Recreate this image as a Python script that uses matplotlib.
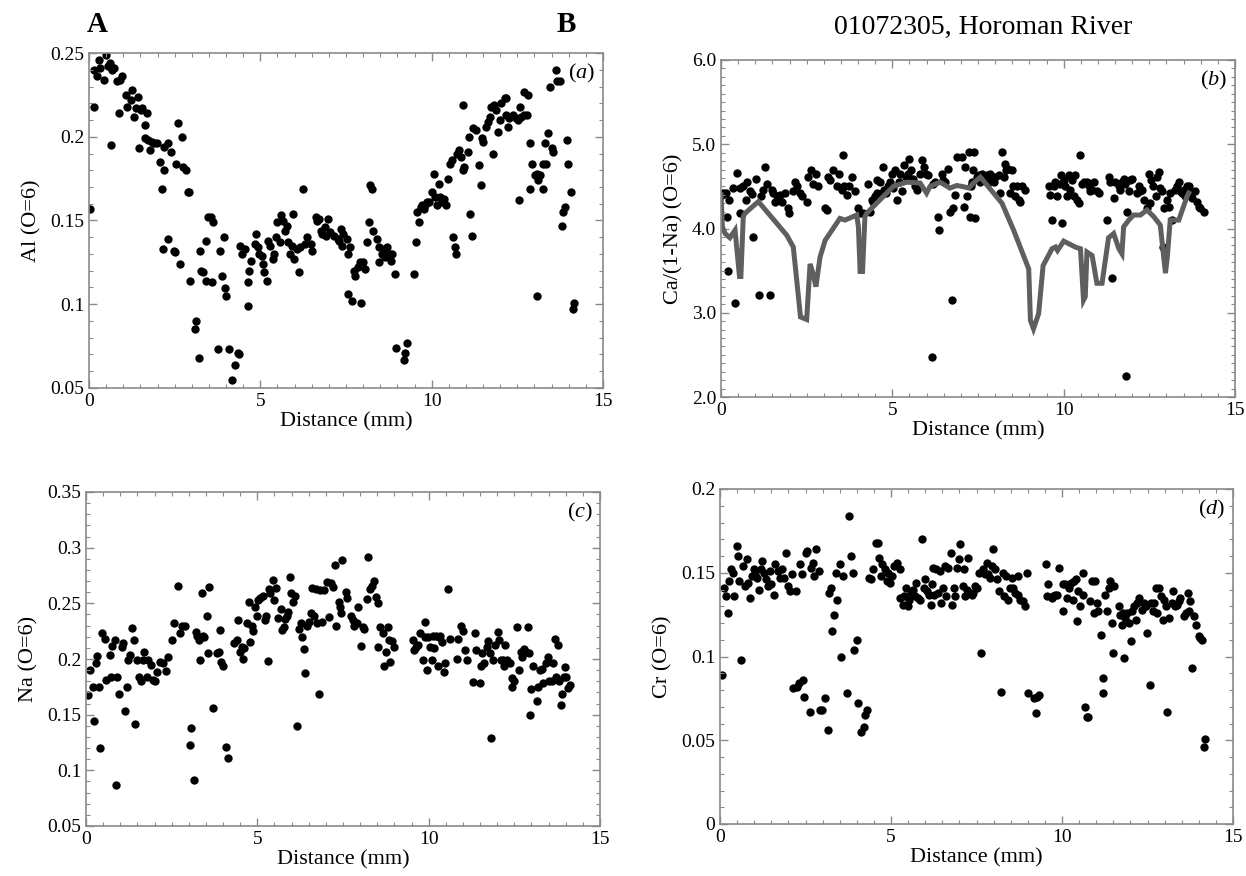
import numpy as np
import matplotlib
matplotlib.use("Agg")
from matplotlib import pyplot as plt
from matplotlib.ticker import MultipleLocator, FormatStrFormatter, FuncFormatter

# ---- data ----
# (a) Al, first half / second half of the traverse
al_x1 = [0.03, 0.15, 0.16, 0.28, 0.23, 0.33, 0.43, 0.50, 0.54, 0.62,
         0.67, 0.74, 0.82, 0.90, 0.97, 0.64, 0.89, 1.07, 1.12, 1.22,
         1.25, 1.30, 1.37, 1.42, 1.47, 1.51, 1.56, 1.63, 1.70, 1.63,
         1.71, 1.77, 1.83, 1.91, 1.99, 2.06, 2.13, 2.19, 2.19, 2.31,
         2.39, 2.55, 2.60, 2.72, 2.75, 2.83, 2.88, 2.92, 2.16, 2.31,
         2.48, 2.51, 2.67, 2.95, 3.08, 3.12, 3.20, 3.25, 3.27, 3.32,
         3.40, 3.42, 3.48, 3.55, 3.62, 3.60, 3.75, 3.81, 3.89, 3.94,
         3.97, 4.01, 4.09, 4.17, 4.26, 4.34, 4.39, 4.41, 4.47, 4.56,
         4.63, 4.65, 4.67, 4.73, 4.83, 4.86, 4.93, 4.96, 5.06, 5.08,
         5.10, 5.18, 5.23, 5.28, 5.36, 5.40, 5.46, 5.50, 5.57, 5.59,
         5.67, 5.72, 5.77, 5.82, 5.87, 5.92, 5.95, 5.99, 6.07, 6.12,
         6.17, 6.24, 6.29, 6.35, 6.49, 6.51, 6.61, 6.66, 6.71, 6.76,
         6.81, 6.88, 6.91, 6.98, 7.04, 7.16, 7.26, 7.34, 7.38]
al_y1 = [0.157, 0.218, 0.240, 0.246, 0.236, 0.241, 0.234, 0.249, 0.242, 0.244,
         0.240, 0.241, 0.233, 0.234, 0.236, 0.195, 0.214, 0.225, 0.218, 0.222,
         0.228, 0.212, 0.217, 0.224, 0.193, 0.216, 0.217, 0.207, 0.214, 0.199,
         0.198, 0.192, 0.197, 0.196, 0.196, 0.185, 0.169, 0.180, 0.194, 0.196,
         0.191, 0.184, 0.208, 0.200, 0.182, 0.180, 0.167, 0.167, 0.133, 0.139,
         0.132, 0.131, 0.124, 0.114, 0.085, 0.090, 0.068, 0.132, 0.120, 0.119,
         0.114, 0.138, 0.152, 0.152, 0.149, 0.113, 0.073, 0.132, 0.117, 0.140,
         0.110, 0.105, 0.073, 0.055, 0.064, 0.071, 0.070, 0.135, 0.130, 0.133,
         0.099, 0.113, 0.120, 0.126, 0.136, 0.142, 0.134, 0.130, 0.129, 0.124,
         0.119, 0.114, 0.138, 0.135, 0.127, 0.130, 0.140, 0.149, 0.137, 0.153,
         0.150, 0.144, 0.147, 0.137, 0.130, 0.135, 0.154, 0.127, 0.133, 0.119,
         0.134, 0.169, 0.136, 0.140, 0.136, 0.132, 0.152, 0.150, 0.151, 0.144,
         0.142, 0.146, 0.141, 0.151, 0.143, 0.141, 0.139, 0.145, 0.135]
al_x2 = [7.30, 7.42, 7.52, 7.57, 7.62, 7.55, 7.67, 7.72, 7.76, 7.84,
         7.91, 7.94, 8.01, 8.06, 8.11, 8.16, 8.21, 8.25, 8.30, 8.40,
         8.45, 8.47, 8.55, 8.60, 8.65, 8.70, 8.79, 8.81, 8.85, 8.92,
         8.96, 9.19, 9.22, 9.28, 9.48, 9.53, 9.56, 9.63, 9.68, 9.73,
         9.77, 9.82, 9.87, 9.92, 10.00, 10.07, 10.10, 10.17, 10.22, 10.23,
         10.31, 10.36, 10.41, 10.49, 10.53, 10.59, 10.61, 10.69, 10.71, 10.75,
         10.80, 10.85, 10.90, 10.92, 10.95, 11.05, 11.08, 11.12, 11.18, 11.22,
         11.29, 11.39, 11.44, 11.47, 11.51, 11.59, 11.64, 11.69, 11.74, 11.78,
         11.83, 11.88, 11.95, 11.98, 12.03, 12.13, 12.16, 12.18, 12.23, 12.27,
         12.37, 12.45, 12.52, 12.57, 12.62, 12.69, 12.77, 12.55, 12.69, 12.81,
         12.86, 12.88, 12.94, 13.01, 13.06, 13.08, 13.11, 13.16, 13.24, 13.25,
         13.30, 13.35, 13.40, 13.45, 13.50, 13.55, 13.63, 13.67, 13.75, 13.79,
         13.82, 13.89, 13.94, 13.99, 14.06, 14.12, 14.16]
al_y2 = [0.138, 0.142, 0.139, 0.130, 0.134, 0.106, 0.102, 0.120, 0.117, 0.122,
         0.125, 0.101, 0.125, 0.121, 0.137, 0.149, 0.171, 0.169, 0.144, 0.139,
         0.134, 0.125, 0.130, 0.133, 0.128, 0.134, 0.130, 0.126, 0.130, 0.118,
         0.074, 0.067, 0.071, 0.077, 0.118, 0.137, 0.155, 0.149, 0.158, 0.159,
         0.157, 0.159, 0.161, 0.161, 0.167, 0.178, 0.164, 0.159, 0.172, 0.164,
         0.161, 0.163, 0.159, 0.175, 0.184, 0.186, 0.140, 0.134, 0.130, 0.190,
         0.192, 0.188, 0.180, 0.219, 0.182, 0.191, 0.200, 0.154, 0.141, 0.205,
         0.204, 0.183, 0.171, 0.199, 0.197, 0.206, 0.209, 0.212, 0.218, 0.190,
         0.219, 0.216, 0.203, 0.210, 0.220, 0.223, 0.223, 0.213, 0.206, 0.211,
         0.213, 0.211, 0.210, 0.218, 0.212, 0.213, 0.213, 0.162, 0.227, 0.225,
         0.196, 0.169, 0.184, 0.177, 0.105, 0.178, 0.174, 0.177, 0.184, 0.169,
         0.196, 0.184, 0.202, 0.230, 0.193, 0.191, 0.240, 0.233, 0.233, 0.147,
         0.155, 0.158, 0.198, 0.184, 0.167, 0.097, 0.101]

# (b) Ca/(1-Na), points
ca_x1 = [0.02, 0.07, 0.15, 0.18, 0.24, 0.21, 0.41, 0.34, 0.48, 0.54,
         0.56, 0.65, 0.73, 0.75, 0.85, 0.90, 0.94, 1.02, 1.11, 1.16,
         1.22, 1.28, 1.35, 1.43, 1.48, 1.53, 1.58, 1.62, 1.67, 1.72,
         1.77, 1.87, 1.96, 1.99, 2.11, 2.16, 2.21, 2.31, 2.35, 2.50,
         2.55, 2.62, 2.69, 2.78, 2.84, 3.04, 3.08, 3.13, 3.18, 3.28,
         3.38, 3.45, 3.52, 3.55, 3.59, 3.67, 3.74, 3.81, 3.91, 4.01,
         4.06, 4.13, 4.30, 4.35, 4.40, 4.45, 4.49, 4.54, 4.56, 4.64,
         4.69, 4.72, 4.76, 4.82, 4.88, 4.93, 4.98, 5.01, 5.08, 5.15,
         5.18, 5.22, 5.27, 5.34, 5.40, 5.47, 5.50, 5.54, 5.61, 5.66,
         5.71, 5.76, 5.81, 5.88, 5.92, 5.98, 6.05, 6.15, 6.20, 6.24,
         6.34, 6.37, 6.44, 6.49, 6.54, 6.63, 6.68, 6.75, 6.78, 6.83,
         6.88]
ca_y1 = [4.40, 4.42, 4.42, 4.14, 4.34, 3.49, 3.11, 4.48, 4.66, 4.48,
         4.18, 4.50, 4.34, 4.55, 4.44, 4.41, 3.90, 4.59, 3.21, 4.38,
         4.46, 4.73, 4.53, 3.21, 4.46, 4.42, 4.32, 4.38, 4.34, 4.40,
         4.32, 4.42, 4.24, 4.18, 4.44, 4.55, 4.50, 4.42, 4.38, 4.32,
         4.61, 4.69, 4.53, 4.65, 4.50, 4.24, 4.22, 4.61, 4.57, 4.69,
         4.51, 4.65, 4.46, 4.87, 4.51, 4.40, 4.51, 4.61, 4.44, 4.24,
         4.18, 4.18, 4.53, 4.20, 4.34, 4.32, 4.38, 4.42, 4.57, 4.55,
         4.42, 4.73, 4.46, 4.42, 4.50, 4.55, 4.65, 4.48, 4.69, 4.34,
         4.55, 4.65, 4.44, 4.75, 4.61, 4.65, 4.83, 4.69, 4.59, 4.50,
         4.46, 4.50, 4.65, 4.81, 4.73, 4.65, 4.63, 2.48, 4.53, 4.55,
         4.14, 3.98, 4.65, 4.57, 4.55, 4.71, 4.20, 3.15, 4.24, 4.40,
         4.85]
ca_x2 = [7.03, 7.08, 7.13, 7.18, 7.23, 7.26, 7.30, 7.32, 7.35, 7.37,
         7.42, 7.47, 7.52, 7.57, 7.62, 7.67, 7.76, 7.81, 7.86, 7.91,
         7.96, 8.01, 8.10, 8.15, 8.20, 8.25, 8.30, 8.33, 8.39, 8.44,
         8.49, 8.52, 8.59, 8.64, 8.69, 8.74, 8.78, 8.88, 9.56, 9.61,
         9.66, 9.71, 9.76, 9.81, 9.90, 9.92, 9.95, 10.00, 10.05, 10.10,
         10.15, 10.19, 10.24, 10.29, 10.34, 10.39, 10.44, 10.49, 10.54, 10.58,
         10.68, 10.73, 10.78, 10.83, 10.88, 10.97, 11.02, 11.26, 11.31, 11.36,
         11.41, 11.46, 11.51, 11.61, 11.65, 11.70, 11.77, 11.80, 11.83, 11.85,
         11.90, 11.95, 12.00, 12.14, 12.19, 12.24, 12.29, 12.34, 12.43, 12.48,
         12.51, 12.55, 12.61, 12.68, 12.72, 12.77, 12.82, 12.87, 12.90, 12.94,
         13.02, 13.06, 13.11, 13.16, 13.26, 13.31, 13.36, 13.40, 13.45, 13.50,
         13.55, 13.60, 13.65, 13.70, 13.75, 13.84, 13.89, 13.94, 13.99, 14.09]
ca_y2 = [4.85, 4.26, 4.73, 4.38, 4.91, 4.14, 4.50, 4.55, 4.69, 4.91,
         4.12, 4.61, 4.63, 4.55, 4.65, 4.61, 4.63, 4.55, 4.65, 4.61,
         4.55, 4.61, 4.63, 4.42, 4.91, 4.61, 4.77, 4.69, 4.71, 4.42,
         4.69, 4.50, 4.38, 4.51, 4.34, 4.32, 4.50, 4.46, 4.51, 4.40,
         4.10, 4.50, 4.55, 4.38, 4.53, 4.63, 4.06, 4.57, 4.50, 4.38,
         4.63, 4.46, 4.57, 4.38, 4.63, 4.34, 4.30, 4.87, 4.53, 4.55,
         4.55, 4.50, 4.44, 4.46, 4.55, 4.44, 4.42, 4.10, 4.61, 4.55,
         3.41, 4.36, 4.55, 4.50, 4.46, 4.55, 4.59, 4.53, 2.25, 4.20,
         4.44, 4.57, 4.59, 4.42, 4.51, 4.44, 4.46, 4.34, 4.24, 4.65,
         4.30, 4.57, 4.51, 4.38, 4.61, 4.67, 4.48, 4.44, 3.78, 4.24,
         4.34, 4.26, 4.42, 4.10, 4.46, 4.50, 4.55, 4.44, 4.42, 4.46,
         4.38, 4.50, 4.51, 4.42, 4.36, 4.44, 4.32, 4.26, 4.24, 4.20]

# (b) grey profile line
ca_line_x = [0.00, 0.04, 0.12, 0.26, 0.41, 0.54, 0.58, 0.65, 0.70, 1.09,
             1.92, 2.11, 2.32, 2.50, 2.60, 2.68, 2.77, 2.89, 3.04, 3.47,
             3.62, 3.96, 4.01, 4.06, 4.13, 4.20, 4.25, 4.64, 5.03, 5.42,
             5.81, 6.00, 6.10, 6.39, 6.68, 6.88, 7.03, 7.23, 7.37, 7.57,
             8.20, 8.54, 8.98, 9.03, 9.12, 9.27, 9.40, 9.66, 9.76, 9.82,
             10.00, 10.34, 10.49, 10.58, 10.63, 10.68, 10.83, 10.97, 11.12, 11.31,
             11.46, 11.61, 11.70, 11.75, 11.90, 12.04, 12.24, 12.43, 12.63, 12.82,
             12.97, 13.02, 13.11, 13.36, 13.60, 13.65]
ca_line_y = [4.40, 4.02, 3.94, 3.89, 3.98, 3.43, 3.43, 4.14, 4.18, 4.32,
             3.92, 3.78, 2.95, 2.92, 3.58, 3.47, 3.31, 3.66, 3.86, 4.12,
             4.10, 4.16, 4.02, 3.49, 3.49, 4.14, 4.18, 4.34, 4.50, 4.55,
             4.54, 4.42, 4.50, 4.55, 4.48, 4.51, 4.50, 4.48, 4.54, 4.61,
             4.30, 3.98, 3.52, 2.91, 2.81, 2.99, 3.56, 3.76, 3.78, 3.74,
             3.85, 3.78, 3.76, 3.15, 3.19, 3.72, 3.68, 3.35, 3.35, 3.89,
             3.94, 3.76, 3.70, 4.02, 4.10, 4.16, 4.16, 4.22, 4.14, 4.04,
             3.47, 3.64, 4.10, 4.10, 4.38, 4.42]

# (c) Na
na_x1 = [0.06, 0.13, 0.19, 0.23, 0.28, 0.33, 0.38, 0.42, 0.48, 0.55,
         0.58, 0.70, 0.73, 0.77, 0.84, 0.89, 0.91, 0.97, 1.04, 1.09,
         1.14, 1.19, 1.24, 1.28, 1.33, 1.40, 1.43, 1.48, 1.56, 1.60,
         1.66, 1.68, 1.77, 1.82, 1.89, 1.95, 2.02, 2.07, 2.15, 2.26,
         2.33, 2.38, 2.51, 2.56, 2.68, 2.73, 2.80, 2.90, 3.03, 3.07,
         3.15, 3.20, 3.25, 3.29, 3.34, 3.39, 3.42, 3.45, 3.52, 3.56,
         3.59, 3.71, 3.81, 3.88, 3.91, 3.95, 4.01, 4.08, 4.15, 4.32,
         4.40, 4.44, 4.50, 4.54, 4.57, 4.62, 4.70, 4.77, 4.79, 4.83,
         4.86, 4.93, 4.99, 5.03, 5.09, 5.16, 5.21, 5.25, 5.30, 5.35,
         5.38, 5.45, 5.50, 5.55, 5.60, 5.68, 5.72, 5.77, 5.81, 5.87,
         5.90, 5.94, 5.99, 6.04, 6.09, 6.17, 6.21, 6.26, 6.30, 6.36,
         6.40, 6.46, 6.50, 6.56, 6.60, 6.66, 6.70, 6.75, 6.79, 6.82,
         6.89, 6.95, 7.02, 7.09, 7.15, 7.22, 7.26, 7.31]
na_y1 = [0.168, 0.190, 0.175, 0.144, 0.196, 0.203, 0.175, 0.120, 0.223, 0.218,
         0.181, 0.204, 0.184, 0.212, 0.217, 0.087, 0.184, 0.169, 0.211, 0.214,
         0.153, 0.175, 0.199, 0.204, 0.228, 0.217, 0.142, 0.199, 0.184, 0.180,
         0.199, 0.206, 0.184, 0.199, 0.195, 0.181, 0.180, 0.188, 0.197, 0.196,
         0.189, 0.202, 0.217, 0.232, 0.266, 0.223, 0.230, 0.230, 0.123, 0.138,
         0.091, 0.224, 0.221, 0.217, 0.199, 0.259, 0.221, 0.220, 0.239, 0.205,
         0.265, 0.156, 0.205, 0.206, 0.226, 0.197, 0.194, 0.121, 0.111, 0.214,
         0.217, 0.235, 0.206, 0.211, 0.200, 0.210, 0.232, 0.251, 0.215, 0.230,
         0.225, 0.247, 0.239, 0.253, 0.255, 0.257, 0.235, 0.239, 0.198, 0.263,
         0.259, 0.271, 0.253, 0.264, 0.237, 0.245, 0.226, 0.229, 0.236, 0.239,
         0.242, 0.274, 0.259, 0.251, 0.257, 0.140, 0.227, 0.232, 0.220, 0.209,
         0.187, 0.230, 0.233, 0.241, 0.264, 0.239, 0.263, 0.232, 0.169, 0.262,
         0.233, 0.262, 0.269, 0.238, 0.268, 0.265, 0.284, 0.230]
na_x2 = [7.48, 7.58, 7.63, 7.39, 7.41, 7.43, 7.73, 7.78, 7.83, 7.91,
         7.94, 8.02, 8.07, 8.12, 8.20, 8.24, 8.30, 8.34, 8.40, 8.47,
         8.51, 8.53, 8.59, 8.66, 8.71, 8.75, 8.80, 8.85, 8.88, 8.92,
         8.98, 9.53, 9.58, 9.63, 9.70, 9.76, 9.83, 9.88, 9.90, 9.95,
         9.99, 10.05, 10.09, 10.13, 10.17, 10.22, 10.27, 10.31, 10.34, 10.38,
         10.44, 10.48, 10.55, 10.61, 10.83, 10.87, 10.95, 11.00, 11.05, 11.13,
         11.30, 11.35, 11.37, 11.49, 11.52, 11.56, 11.62, 11.69, 11.73, 11.78,
         11.83, 11.88, 11.93, 12.01, 12.05, 12.11, 12.17, 12.20, 12.24, 12.30,
         12.37, 12.42, 12.44, 12.50, 12.57, 12.64, 12.69, 12.73, 12.79, 12.83,
         12.89, 12.93, 12.96, 12.99, 13.05, 13.15, 13.20, 13.25, 13.30, 13.34,
         13.41, 13.47, 13.51, 13.59, 13.63, 13.68, 13.73, 13.78, 13.79, 13.85,
         13.89, 13.95, 13.99, 14.02, 14.06, 14.11]
na_y2 = [0.289, 0.260, 0.255, 0.251, 0.247, 0.241, 0.239, 0.235, 0.230, 0.232,
         0.247, 0.212, 0.229, 0.227, 0.254, 0.292, 0.263, 0.266, 0.270, 0.256,
         0.211, 0.250, 0.229, 0.223, 0.194, 0.206, 0.229, 0.217, 0.197, 0.216,
         0.211, 0.217, 0.208, 0.211, 0.213, 0.223, 0.199, 0.220, 0.233, 0.190,
         0.220, 0.211, 0.199, 0.221, 0.210, 0.221, 0.194, 0.220, 0.221, 0.215,
         0.188, 0.196, 0.263, 0.218, 0.200, 0.218, 0.230, 0.225, 0.208, 0.199,
         0.179, 0.223, 0.208, 0.178, 0.194, 0.205, 0.196, 0.211, 0.216, 0.205,
         0.129, 0.199, 0.213, 0.224, 0.217, 0.199, 0.199, 0.194, 0.213, 0.199,
         0.196, 0.175, 0.183, 0.180, 0.229, 0.190, 0.206, 0.202, 0.209, 0.206,
         0.229, 0.205, 0.150, 0.173, 0.194, 0.162, 0.175, 0.190, 0.191, 0.178,
         0.196, 0.202, 0.180, 0.180, 0.196, 0.218, 0.184, 0.213, 0.180, 0.159,
         0.169, 0.184, 0.193, 0.184, 0.174, 0.177]

# (d) Cr
cr_x1 = [0.05, 0.13, 0.18, 0.22, 0.25, 0.31, 0.37, 0.41, 0.49, 0.52,
         0.57, 0.61, 0.67, 0.74, 0.78, 0.83, 0.88, 0.93, 0.98, 1.03,
         1.08, 1.13, 1.20, 1.24, 1.29, 1.35, 1.39, 1.45, 1.50, 1.57,
         1.62, 1.69, 1.75, 1.81, 1.86, 1.94, 1.98, 2.04, 2.11, 2.14,
         2.21, 2.25, 2.30, 2.33, 2.39, 2.43, 2.47, 2.50, 2.55, 2.63,
         2.67, 2.73, 2.76, 2.82, 2.89, 2.92, 2.99, 3.07, 3.16, 3.19,
         3.24, 3.28, 3.33, 3.38, 3.43, 3.51, 3.55, 3.61, 3.71, 3.77,
         3.84, 3.90, 3.92, 4.00, 4.04, 4.12, 4.20, 4.24, 4.29, 4.36,
         4.41, 4.46, 4.56, 4.63, 4.66, 4.71, 4.75, 4.82, 4.88, 4.92,
         4.98, 5.02, 5.10, 5.18, 5.25, 5.27, 5.34, 5.39, 5.44, 5.49,
         5.54, 5.59, 5.64, 5.69, 5.74, 5.80, 5.86, 5.90, 5.96, 6.00,
         6.06, 6.10, 6.16, 6.20, 6.23, 6.27, 6.32, 6.37, 6.42, 6.47,
         6.52, 6.57, 6.62, 6.67, 6.75, 6.78, 6.84, 6.88, 6.94, 7.01,
         6.98]
cr_y1 = [0.089, 0.141, 0.136, 0.126, 0.145, 0.152, 0.150, 0.136, 0.166, 0.160,
         0.145, 0.098, 0.154, 0.142, 0.158, 0.144, 0.135, 0.148, 0.152, 0.149,
         0.147, 0.140, 0.152, 0.157, 0.150, 0.146, 0.142, 0.151, 0.143, 0.137,
         0.155, 0.151, 0.147, 0.152, 0.147, 0.162, 0.142, 0.139, 0.149, 0.081,
         0.139, 0.082, 0.084, 0.155, 0.149, 0.086, 0.076, 0.162, 0.163, 0.067,
         0.153, 0.156, 0.148, 0.164, 0.151, 0.068, 0.068, 0.075, 0.056, 0.138,
         0.141, 0.115, 0.125, 0.150, 0.134, 0.155, 0.100, 0.148, 0.078, 0.184,
         0.160, 0.150, 0.104, 0.110, 0.072, 0.055, 0.058, 0.065, 0.068, 0.147,
         0.146, 0.152, 0.168, 0.168, 0.159, 0.148, 0.155, 0.152, 0.145, 0.150,
         0.144, 0.148, 0.154, 0.156, 0.152, 0.135, 0.131, 0.136, 0.141, 0.130,
         0.134, 0.138, 0.140, 0.136, 0.144, 0.135, 0.134, 0.170, 0.141, 0.146,
         0.139, 0.137, 0.131, 0.143, 0.153, 0.137, 0.152, 0.138, 0.151, 0.132,
         0.141, 0.154, 0.136, 0.153, 0.162, 0.131, 0.141, 0.136, 0.153, 0.167,
         0.158]
cr_x2 = [7.10, 7.12, 7.16, 7.21, 7.26, 7.31, 7.36, 7.40, 7.45, 7.52,
         7.62, 7.58, 7.70, 7.75, 7.80, 7.85, 7.89, 7.94, 7.98, 8.04,
         8.11, 8.17, 8.21, 8.27, 8.31, 8.37, 8.43, 8.48, 8.53, 8.58,
         8.63, 8.70, 8.72, 8.77, 8.85, 8.92, 8.99, 9.02, 9.18, 9.24,
         9.28, 9.34, 9.53, 9.60, 9.57, 9.70, 9.75, 9.80, 9.85, 9.92,
         10.02, 10.04, 10.09, 10.14, 10.21, 10.25, 10.31, 10.35, 10.41, 10.45,
         10.48, 10.54, 10.60, 10.62, 10.67, 10.74, 10.77, 10.82, 10.87, 10.94,
         10.97, 11.02, 11.06, 11.13, 11.19, 11.21, 11.26, 11.31, 11.36, 11.41,
         11.46, 11.49, 11.51, 11.66, 11.70, 11.75, 11.78, 11.82, 11.85, 11.91,
         11.97, 12.01, 12.04, 12.10, 12.16, 12.20, 12.26, 12.33, 12.40, 12.46,
         12.49, 12.57, 12.59, 12.65, 12.69, 12.75, 12.79, 12.85, 12.89, 12.95,
         12.99, 13.05, 13.08, 13.14, 13.21, 13.26, 13.31, 13.36, 13.41, 13.46,
         13.58, 13.63, 13.67, 13.70, 13.75, 13.80, 13.85, 13.92, 14.00, 14.04,
         14.09, 14.14, 14.19]
cr_y2 = [0.142, 0.152, 0.136, 0.140, 0.159, 0.138, 0.137, 0.138, 0.142, 0.141,
         0.102, 0.150, 0.152, 0.149, 0.156, 0.149, 0.147, 0.154, 0.164, 0.152,
         0.146, 0.139, 0.079, 0.150, 0.136, 0.148, 0.134, 0.141, 0.147, 0.141,
         0.138, 0.148, 0.137, 0.134, 0.133, 0.130, 0.150, 0.078, 0.075, 0.066,
         0.076, 0.077, 0.155, 0.143, 0.136, 0.135, 0.136, 0.137, 0.137, 0.153,
         0.143, 0.127, 0.143, 0.135, 0.141, 0.144, 0.134, 0.145, 0.146, 0.121,
         0.139, 0.130, 0.137, 0.150, 0.070, 0.064, 0.064, 0.133, 0.145, 0.126,
         0.145, 0.132, 0.127, 0.113, 0.087, 0.078, 0.137, 0.127, 0.141, 0.145,
         0.120, 0.102, 0.142, 0.130, 0.125, 0.119, 0.126, 0.099, 0.123, 0.126,
         0.120, 0.109, 0.127, 0.130, 0.122, 0.132, 0.135, 0.128, 0.132, 0.130,
         0.114, 0.083, 0.132, 0.127, 0.132, 0.141, 0.126, 0.141, 0.136, 0.122,
         0.134, 0.130, 0.067, 0.123, 0.132, 0.139, 0.130, 0.131, 0.133, 0.135,
         0.124, 0.126, 0.138, 0.127, 0.133, 0.093, 0.124, 0.119, 0.112, 0.111,
         0.110, 0.046, 0.051]

# ---- style ----
plt.rcParams["font.family"] = ["Liberation Serif", "DejaVu Serif"]
plt.rcParams["mathtext.fontset"] = "custom"
plt.rcParams["mathtext.rm"] = "Liberation Serif"
plt.rcParams["mathtext.it"] = "Liberation Serif:italic"

W, H = 1246, 876
fig = plt.figure(figsize=(W / 100, H / 100), dpi=100)


def box(l, r, t, b):
    return [l / W, 1 - b / H, (r - l) / W, (b - t) / H]


frame = "#8a8a8a"


def style(ax, ylo, yhi, ymaj, ymin, yfmt, ylabel, tag):
    ax.set_xlim(0, 15)
    ax.set_ylim(ylo, yhi)
    ax.xaxis.set_major_locator(MultipleLocator(5))
    ax.xaxis.set_minor_locator(MultipleLocator(0.5))
    ax.yaxis.set_major_locator(MultipleLocator(ymaj))
    ax.yaxis.set_minor_locator(MultipleLocator(ymin))
    ax.yaxis.set_major_formatter(yfmt)
    ax.tick_params(which="both", direction="in", top=True, right=True,
                   color=frame, labelsize=14)
    ax.tick_params(which="major", length=6, width=1)
    ax.tick_params(which="minor", length=3, width=0.8)
    for s in ax.spines.values():
        s.set_color(frame)
        s.set_linewidth(1.2)
    ax.set_xlabel("Distance (mm)", fontsize=16, labelpad=2)
    ax.set_ylabel(ylabel, fontsize=16, labelpad=6)
    ax.text(0.985, 0.94, r"$(\mathit{%s})$" % tag, transform=ax.transAxes,
            ha="right", va="center", fontsize=16)


gfmt = FuncFormatter(lambda v, p: "%g" % round(v, 3))
dot = 36

ax_a = fig.add_axes(box(89, 603, 53, 388))
ax_a.scatter(al_x1 + al_x2, al_y1 + al_y2, s=dot, color="black", linewidths=0)
style(ax_a, 0.05, 0.25, 0.05, 0.01, gfmt, "Al (O=6)", "a")

ax_b = fig.add_axes(box(721, 1235, 60, 397))
ax_b.plot(ca_line_x, ca_line_y, color="#5f5f5f", lw=3.6, solid_joinstyle="miter")
ax_b.scatter(ca_x1 + ca_x2, ca_y1 + ca_y2, s=dot, color="black", linewidths=0)
style(ax_b, 2.0, 6.0, 1.0, 0.1, FormatStrFormatter("%.1f"), "Ca/(1-Na) (O=6)", "b")

ax_c = fig.add_axes(box(86, 600, 492, 826))
ax_c.scatter(na_x1 + na_x2, na_y1 + na_y2, s=dot, color="black", linewidths=0)
style(ax_c, 0.05, 0.35, 0.05, 0.01, gfmt, "Na (O=6)", "c")

ax_d = fig.add_axes(box(720, 1233, 489, 824))
ax_d.scatter(cr_x1 + cr_x2, cr_y1 + cr_y2, s=dot, color="black", linewidths=0)
style(ax_d, 0.0, 0.2, 0.05, 0.01, gfmt, "Cr (O=6)", "d")

fig.text(97 / W, 1 - 24 / H, "A", fontsize=21, fontweight="bold", ha="center", va="center")
fig.text(566 / W, 1 - 24 / H, "B", fontsize=21, fontweight="bold", ha="center", va="center")
fig.text(983 / W, 1 - 27 / H, "01072305, Horoman River", fontsize=20, ha="center", va="center")

fig.savefig("out.png", dpi=100)
